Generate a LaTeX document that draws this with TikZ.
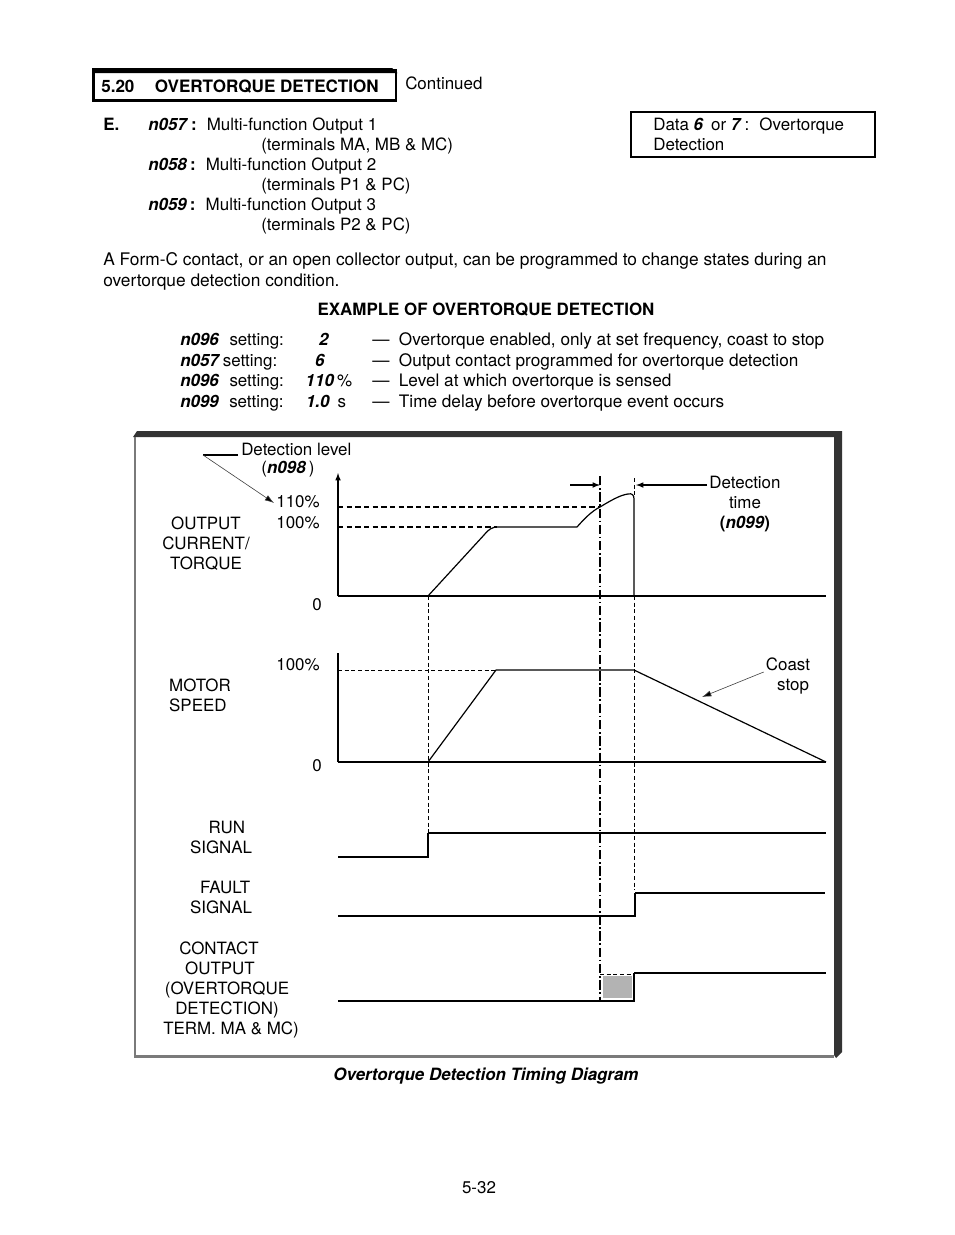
\documentclass[tikz,border=0pt]{standalone}
\usepackage{fontspec}
\setmainfont{TeX Gyre Heros}
\usepackage{xcolor}
\usetikzlibrary{calc, positioning, arrows.meta}

\definecolor{frameDark}{HTML}{333333}
\definecolor{frameGray}{HTML}{7A7A7A}
\definecolor{boxGray}{HTML}{B3B3B3}

\tikzset{
    txt/.style={inner sep=0pt, font=\fontsize{12.7}{15}\selectfont},
    lbl/.style={txt, align=center},
    sigthin/.style={line width=0.9pt},
    sigthick/.style={line width=1.9pt},
    guide/.style={line width=0.6pt, dash pattern=on 3pt off 2pt},
    levelline/.style={line width=1.1pt, dash pattern=on 4pt off 2.5pt},
    trigline/.style={line width=1.4pt, dash pattern=on 7pt off 2pt on 1.2pt off 2pt},
    leader/.style={line width=0.45pt, draw=black!75, -{Latex[length=7pt, width=4.5pt, fill=black]}}
}

\begin{document}
\begin{tikzpicture}[x=0.75pt, y=-0.75pt, >=latex]
    \useasboundingbox (0,0) rectangle (954,1235);
    \fill[white] (0,0) rectangle (954,1235);

    % Titre de section
    \draw[line width=1.9pt] (93.5,70.5) rectangle (396,100.5);
    \fill (92,68) -- (392,68) -- (397.5,73) -- (92,73) -- cycle;
    \node[txt, anchor=base west, font=\fontsize{12.8}{15}\selectfont\bfseries] (sect) at (101,92) {5.20\hspace{1.2em}OVERTORQUE DETECTION};
    \node[txt, anchor=base west] (cont) at (405,89) {Continued};

    % Parametres n057 - n059
    \node[txt, anchor=base west, font=\fontsize{12.7}{15}\selectfont\bfseries] (itemE) at (103,130) {E.};
    \node[txt, anchor=base west] (p57) at (148,130) {\textbf{\textit{n057}}\,\textbf{:}\hspace{0.6em}Multi-function Output 1};
    \node[txt, anchor=base west] (t57) at (261,150) {(terminals MA, MB \& MC)};
    \node[txt, anchor=base west] (p58) at (148,170) {\textbf{\textit{n058}}\,\textbf{:}\hspace{0.6em}Multi-function Output 2};
    \node[txt, anchor=base west] (t58) at (261,190) {(terminals P1 \& PC)};
    \node[txt, anchor=base west] (p59) at (148,210) {\textbf{\textit{n059}}\,\textbf{:}\hspace{0.6em}Multi-function Output 3};
    \node[txt, anchor=base west] (t59) at (261,230) {(terminals P2 \& PC)};

    % Encadre Data 6 / 7
    \draw[line width=0.9pt] (631,112) rectangle (875,157);
    \node[txt, anchor=base west] (data1) at (653,130) {Data \textbf{\textit{6}}\, or \textbf{\textit{7}}\,:\hspace{0.6em}Overtorque};
    \node[txt, anchor=base west] (data2) at (653,150) {Detection};

    % Paragraphe
    \node[txt, anchor=base west, font=\fontsize{13}{15}\selectfont] (para1) at (103,265) {A Form-C contact, or an open collector output, can be programmed to change states during an};
    \node[txt, anchor=base west, font=\fontsize{13}{15}\selectfont] (para2) at (103,286) {overtorque detection condition.};
    \node[txt, anchor=base, font=\fontsize{12.7}{15}\selectfont\bfseries] (exhead) at (486,315) {EXAMPLE OF OVERTORQUE DETECTION};

    % Tableau des reglages
    \foreach \n/\gap/\yy/\val/\xv/\unit/\desc in {
        n096/0.6em/345/2/324//{Overtorque enabled, only at set frequency, coast to stop},
        n057/0.15em/366/6/320//{Output contact programmed for overtorque detection},
        n096/0.6em/386/110/320/\,\%/{Level at which overtorque is sensed},
        n099/0.6em/407/1.0/318/\hspace{0.45em}s/{Time delay before overtorque event occurs}}{
        \node[txt, anchor=base west] (set\yy) at (180,\yy) {\textbf{\textit{\n}}\hspace{\gap}setting:};
        \node[txt, anchor=base] (val\yy) at (\xv,\yy) {\textbf{\textit{\val}}\rlap{\unit}};
        \node[txt, anchor=base west, font=\fontsize{12.9}{15}\selectfont] (desc\yy) at (372,\yy) {—\hspace{0.55em}\desc};
    }

    % Cadre du diagramme
    \fill[frameDark] (133,437) -- (137,431) -- (842,431) -- (842,1052) -- (836,1058) -- (834,1055) -- (834,437) -- cycle;
    \draw[frameGray, line width=2.2pt] (135,437) -- (135,1056.5) -- (834,1056.5);

    % Courant / couple de sortie
    \draw[levelline] (338,507) -- (600,507);
    \draw[levelline] (338,527) -- (497,527);
    \draw[sigthin, ->] (338,596) -- (338,473);
    \draw[sigthick] (338,596) -- (428,596);
    \draw[sigthin] (428,596) -- (634,596);
    \draw[sigthick] (634,596) -- (826,596);
    \draw[sigthin, line join=round] (428,596) -- (484,535)
        .. controls (489,529) and (492,527) .. (498,527) -- (577,527)
        .. controls (585,518) and (592,511) .. (600,507)
        .. controls (610,501) and (620,495) .. (628,494)
        .. controls (632,493) and (634,495) .. (634,499) -- (634,596);

    \node[txt] (p110) at (298,502) {110\%};
    \node[txt] (p100a) at (298,523) {100\%};
    \node[txt] (zeroa) at (317,605) {0};
    \node[lbl] (curlbl) at (206,544) {OUTPUT\\CURRENT/\\TORQUE};
    \node[txt, anchor=base west] (lvl) at (241,455) {Detection level};
    \node[txt] (lvlpar) at (288,469) {(\textbf{\textit{n098}}\,)};
    \coordinate (lvlknee) at (203,455);
    \draw[line width=0.9pt] ($(lvl.base west)+(-3,0)$) -- (lvlknee);
    \draw[leader] (lvlknee) -- ($(p110.west)+(-2,1)$);

    % Temps de detection
    \draw[trigline] (600,476) -- (600,1001);
    \draw[guide] (634,478) -- (634,497);
    \draw[guide] (634,596) -- (634,890);
    \draw[guide] (428,596) -- (428,832);
    \coordinate (dtleft) at (570,485);
    \coordinate (dttip) at (600,485);
    \draw[sigthin, ->] (dtleft) -- (dttip);
    \node[lbl] (dtime) at (745,504) {Detection\\time\\\textbf{(\textit{n099})}};
    \coordinate (dttip2) at (636,485);
    \draw[sigthin, ->] ($(dtime.west |- dttip2)+(-2,0)$) -- (dttip2);

    % Vitesse moteur
    \draw[sigthin] (338,762) -- (338,653);
    \draw[guide] (338,670) -- (497,670);
    \draw[sigthick] (338,762) -- (428,762);
    \draw[sigthin] (428,762) -- (826,762);
    \draw[sigthin, line join=round] (428,762) -- (496,670) -- (634,670) -- (826,762);
    \node[txt] (p100b) at (298,665) {100\%};
    \node[txt] (zerob) at (317,766) {0};
    \node[lbl, align=left] (spdlbl) at (200,695) {MOTOR\\SPEED};
    \node[lbl] (coast) at (788,676) {Coast\\\hspace{0.6em}stop};
    \coordinate (cstip) at (702,697);
    \draw[leader] ($(coast.west)+(-2,-4)$) -- (cstip);

    % Signal de marche
    \draw[sigthick] (338,857) -- (428,857) -- (428,833);
    \draw[sigthin] (428,833) -- (826,833);
    \node[lbl] (runlbl) at (221,837) {\hspace{0.7em}RUN\\SIGNAL};

    % Signal de defaut
    \draw[sigthick] (338,916) -- (635,916) -- (635,893);
    \draw[sigthin] (635,893) -- (825,893);
    \node[lbl] (fltlbl) at (221,897) {\hspace{0.5em}FAULT\\SIGNAL};

    % Sortie contact
    \fill[boxGray, draw=white, line width=0.8pt] (602,975) rectangle (633,999);
    \draw[guide] (600,974) -- (633,974);
    \draw[sigthick] (338,1001) -- (634,1001) -- (634,973);
    \draw[sigthin] (634,973) -- (826,973);
    \node[lbl] (ctlbl) at (231,990) {CONTACT\kern18pt\\OUTPUT\kern16.5pt\\(OVERTORQUE\kern6pt\\DETECTION)\kern6pt\\TERM. MA \& MC)};

    % Legende et numero de page
    \node[txt, anchor=base, font=\fontsize{12.7}{15}\selectfont\bfseries\itshape] (caption) at (486,1080) {Overtorque Detection Timing Diagram};
    \node[txt, anchor=base] (pageno) at (479,1193) {5-32};
\end{tikzpicture}
\end{document}
